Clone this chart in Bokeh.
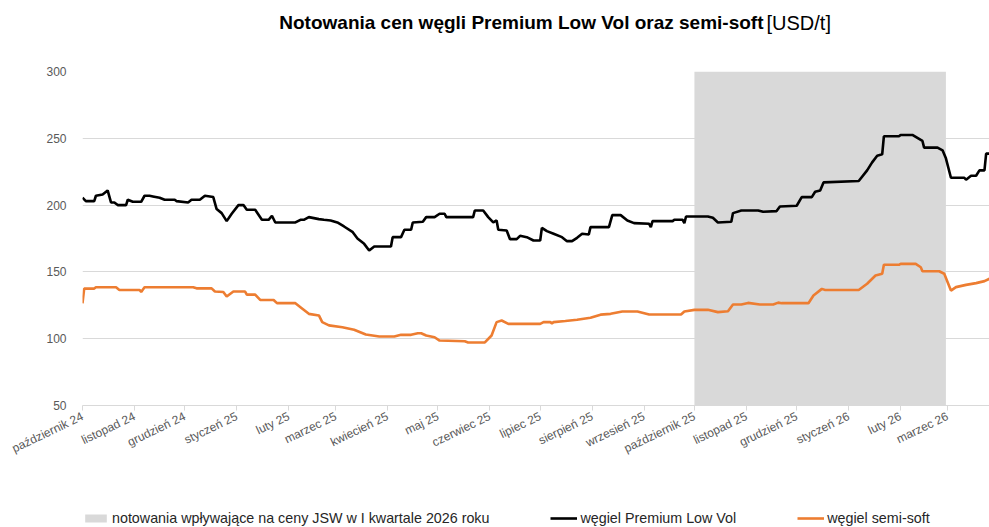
import pandas as pd
from bokeh.plotting import figure
from bokeh.layouts import column
from bokeh.models import ColumnDataSource, Range1d, FixedTicker, Legend, LegendItem
from bokeh.core.properties import value
from bokeh.embed import file_html
from bokeh.resources import INLINE

# ---------------- data ----------------
title_bold = "Notowania cen węgli Premium Low Vol oraz semi-soft"
title_unit = "[USD/t]"

series_names = ["notowania wpływające na ceny JSW w I kwartale 2026 roku",
                "węgiel Premium Low Vol", "węgiel semi-soft"]

tick_dates = ["2024-10-01", "2024-11-01", "2024-12-01", "2025-01-01", "2025-02-01",
              "2025-03-01", "2025-04-01", "2025-05-01", "2025-06-01", "2025-07-01",
              "2025-08-01", "2025-09-01", "2025-10-01", "2025-11-01", "2025-12-01",
              "2026-01-01", "2026-02-01", "2026-03-01"]
tick_labels = ["październik 24", "listopad 24", "grudzień 24", "styczeń 25", "luty 25",
               "marzec 25", "kwiecień 25", "maj 25", "czerwiec 25", "lipiec 25",
               "sierpień 25", "wrzesień 25", "październik 25", "listopad 25", "grudzień 25",
               "styczeń 26", "luty 26", "marzec 26"]

shade_start = "2025-10-01"
shade_end = "2026-02-28"

plv_dates = [
    "2024-10-01", "2024-10-03", "2024-10-08", "2024-10-09", "2024-10-13", "2024-10-16",
    "2024-10-18", "2024-10-20", "2024-10-22", "2024-10-27", "2024-10-28", "2024-10-31",
    "2024-11-05", "2024-11-07", "2024-11-10", "2024-11-12", "2024-11-16", "2024-11-19",
    "2024-11-25", "2024-11-26", "2024-12-03", "2024-12-05", "2024-12-10", "2024-12-13",
    "2024-12-16", "2024-12-18", "2024-12-20", "2024-12-23", "2024-12-26", "2024-12-29",
    "2025-01-02", "2025-01-05", "2025-01-07", "2025-01-12", "2025-01-16", "2025-01-20",
    "2025-01-22", "2025-01-24", "2025-02-05", "2025-02-08", "2025-02-10", "2025-02-13",
    "2025-02-19", "2025-02-22", "2025-02-26", "2025-03-02", "2025-03-06", "2025-03-11",
    "2025-03-14", "2025-03-18", "2025-03-21", "2025-03-24", "2025-04-03", "2025-04-04",
    "2025-04-09", "2025-04-11", "2025-04-15", "2025-04-16", "2025-04-22", "2025-04-24",
    "2025-04-29", "2025-05-02", "2025-05-05", "2025-05-06", "2025-05-22", "2025-05-23",
    "2025-05-28", "2025-05-31", "2025-06-03", "2025-06-05", "2025-06-06", "2025-06-11",
    "2025-06-13", "2025-06-17", "2025-06-19", "2025-06-23", "2025-06-27", "2025-07-01",
    "2025-07-02", "2025-07-05", "2025-07-09", "2025-07-14", "2025-07-17", "2025-07-20",
    "2025-07-23", "2025-07-26", "2025-07-30", "2025-07-31", "2025-08-11", "2025-08-13",
    "2025-08-18", "2025-08-22", "2025-08-26", "2025-09-04", "2025-09-05", "2025-09-06",
    "2025-09-18", "2025-09-19", "2025-09-24", "2025-09-25", "2025-09-26", "2025-10-09",
    "2025-10-12", "2025-10-15", "2025-10-23", "2025-10-24", "2025-10-29", "2025-11-08",
    "2025-11-11", "2025-11-19", "2025-11-21", "2025-12-01", "2025-12-04", "2025-12-10",
    "2025-12-12", "2025-12-15", "2025-12-17", "2026-01-07", "2026-01-12", "2026-01-15",
    "2026-01-18", "2026-01-21", "2026-01-22", "2026-01-31", "2026-02-01", "2026-02-08",
    "2026-02-12", "2026-02-14", "2026-02-15", "2026-02-23", "2026-02-26", "2026-02-28",
    "2026-03-03", "2026-03-11", "2026-03-12", "2026-03-15", "2026-03-18", "2026-03-20",
    "2026-03-23", "2026-03-24", "2026-03-26"]
plv_values = [
    205.5, 203, 203, 207, 208, 211,
    202, 202, 200, 200, 204, 202.5,
    202.5, 207, 207, 206.5, 205.5, 204,
    204, 203, 202, 204, 204, 207,
    206.5, 206, 197, 194, 188, 193.5,
    200, 200, 196.5, 196.5, 189, 189,
    192, 187, 187, 189, 189, 191,
    189.5, 189, 188.5, 187, 184, 180,
    175, 171, 166, 169, 169, 176,
    176, 181.5, 181.5, 187, 187.5, 191,
    191, 193.5, 193.5, 191, 191, 196,
    196, 191, 187, 188.5, 181.5, 181,
    174.5, 174.5, 177, 176, 173.5, 173.5,
    183, 180.5, 178.5, 176, 173, 173,
    175.5, 178.5, 178, 183.5, 183.5, 192.5,
    192.5, 188.5, 186.5, 186, 183.5, 188,
    188, 189, 189, 186.5, 191.5, 191.5,
    190.5, 187, 187.5, 194, 196, 196,
    195, 195.5, 199, 199.5, 206, 206,
    210, 211, 217, 218, 226, 232,
    237, 238, 251.5, 251.5, 252.5, 252.5,
    249.5, 248, 243, 243, 241, 235,
    220.5, 220.5, 219, 222, 222, 226,
    226, 238.5, 238.5]

ss_dates = [
    "2024-10-01", "2024-10-02", "2024-10-08", "2024-10-09", "2024-10-21", "2024-10-23",
    "2024-11-04", "2024-11-05", "2024-11-07", "2024-12-06", "2024-12-08", "2024-12-17",
    "2024-12-19", "2024-12-24", "2024-12-26", "2024-12-30", "2025-01-06", "2025-01-07",
    "2025-01-12", "2025-01-15", "2025-01-23", "2025-01-25", "2025-02-05", "2025-02-08",
    "2025-02-13", "2025-02-19", "2025-02-21", "2025-02-25", "2025-03-05", "2025-03-12",
    "2025-03-19", "2025-03-27", "2025-04-05", "2025-04-09", "2025-04-15", "2025-04-19",
    "2025-04-21", "2025-04-24", "2025-04-29", "2025-05-02", "2025-05-17", "2025-05-19",
    "2025-05-29", "2025-06-02", "2025-06-05", "2025-06-08", "2025-06-12", "2025-07-01",
    "2025-07-03", "2025-07-07", "2025-07-08", "2025-07-09", "2025-07-16", "2025-07-23",
    "2025-07-31", "2025-08-06", "2025-08-12", "2025-08-19", "2025-08-28", "2025-09-04",
    "2025-09-23", "2025-09-25", "2025-10-01", "2025-10-09", "2025-10-15", "2025-10-21",
    "2025-10-24", "2025-10-29", "2025-11-02", "2025-11-09", "2025-11-17", "2025-11-20",
    "2025-11-22", "2025-12-08", "2025-12-11", "2025-12-16", "2025-12-18", "2026-01-07",
    "2026-01-12", "2026-01-17", "2026-01-21", "2026-01-22", "2026-01-31", "2026-02-01",
    "2026-02-10", "2026-02-13", "2026-02-14", "2026-02-24", "2026-02-27", "2026-03-03",
    "2026-03-06", "2026-03-12", "2026-03-18", "2026-03-23", "2026-03-26"]
ss_values = [
    126.5, 137.5, 137.5, 138.5, 138.5, 136.5,
    136.5, 135, 138.5, 138.5, 137.7, 137.7,
    135.3, 135, 131.6, 135.3, 135.3, 133,
    133, 129, 129, 126.6, 126.6, 123.6,
    118.6, 117.4, 112.4, 110, 108.6, 106.7,
    103.1, 101.6, 101.6, 102.9, 102.9, 104.1,
    104.1, 102.4, 101.1, 98.6, 98.1, 97.2,
    97.2, 102.4, 112.4, 113.6, 111.1, 111.1,
    112.4, 112.4, 111.5, 112.4, 113.2, 114.2,
    115.7, 118, 118.6, 120.4, 120.4, 118.1,
    118.1, 120.4, 121.6, 121.6, 119.9, 120.5,
    125.6, 125.6, 126.8, 125.6, 125.6, 127,
    126.6, 126.6, 132.3, 137.3, 136.5, 136.5,
    141.1, 147.3, 148.6, 155.3, 155.3, 156,
    156, 153.5, 150.5, 150.5, 148.6, 136,
    138.6, 140.3, 141.6, 143.1, 144.9]

y_min, y_max = 50, 300
y_ticks = [50, 100, 150, 200, 250, 300]

SHADE = "#d9d9d9"
BLACK = "#000000"
ORANGE = "#ed7d31"
W = 989
LEFT = 82

def ms(d):
    return int(pd.Timestamp(d).value // 10**6)

plv_src = ColumnDataSource(dict(x=pd.to_datetime(plv_dates), y=plv_values))
ss_src = ColumnDataSource(dict(x=pd.to_datetime(ss_dates), y=ss_values))
shade_src = ColumnDataSource(dict(left=[pd.Timestamp(shade_start)], right=[pd.Timestamp(shade_end)],
                                  bottom=[y_min], top=[y_max]))

# ---------------- title strip (frame spans page x 82..989, y 0..50) ----------------
tp = figure(width=W, height=50, x_range=Range1d(LEFT, W), y_range=Range1d(50, 0),
            output_backend="svg", toolbar_location=None,
            x_axis_location=None, y_axis_location=None,
            min_border_left=LEFT, min_border_right=0, min_border_top=0, min_border_bottom=0)
tp.outline_line_color = None
tp.grid.visible = False
tp.text(x=[763], y=[22], text=[title_bold], text_font=value("Liberation Sans"),
        text_font_style="bold", text_font_size="19px", text_color="#000000",
        text_align="right", text_baseline="middle")
tp.text(x=[766], y=[22], text=[title_unit], text_font=value("Liberation Sans"),
        text_font_style="normal", text_font_size="20px", text_color="#000000",
        text_align="left", text_baseline="middle")

# ---------------- main chart ----------------
p = figure(width=W, height=445, x_axis_type="datetime",
           x_range=Range1d(pd.Timestamp(plv_dates[0]), pd.Timestamp(plv_dates[-1])),
           y_range=Range1d(y_min, y_max),
           output_backend="svg", toolbar_location=None,
           min_border_left=LEFT, min_border_right=0, min_border_top=21, min_border_bottom=90)
p.outline_line_color = None

p.quad(left="left", right="right", bottom="bottom", top="top", source=shade_src,
       fill_color=SHADE, line_color=None)
p.line("x", "y", source=plv_src, line_color=BLACK, line_width=2.6)
p.line("x", "y", source=ss_src, line_color=ORANGE, line_width=2.6)

p.xgrid.grid_line_color = None
p.ygrid.grid_line_color = "#d9d9d9"
p.ygrid.grid_line_width = 1
p.ygrid.ticker = FixedTicker(ticks=y_ticks)

p.yaxis.ticker = FixedTicker(ticks=y_ticks)
p.yaxis.axis_line_color = None
p.yaxis.major_tick_line_color = None
p.yaxis.minor_tick_line_color = None
p.yaxis.major_tick_out = 0
p.yaxis.major_tick_in = 0
p.yaxis.major_label_standoff = 16
p.yaxis.major_label_text_font = "Liberation Sans"
p.yaxis.major_label_text_font_size = "12px"
p.yaxis.major_label_text_color = "#595959"

tick_ms = [ms(d) for d in tick_dates]
p.xaxis.ticker = FixedTicker(ticks=tick_ms)
p.xaxis.major_label_overrides = {t: lab for t, lab in zip(tick_ms, tick_labels)}
p.xaxis.axis_line_color = "#d9d9d9"
p.xaxis.axis_line_width = 1
p.xaxis.major_tick_line_color = "#d9d9d9"
p.xaxis.major_tick_out = 5
p.xaxis.major_tick_in = 0
p.xaxis.minor_tick_line_color = None
p.xaxis.major_label_orientation = 0.45
p.xaxis.major_label_standoff = 5
p.xaxis.major_label_text_font = "Liberation Sans"
p.xaxis.major_label_text_font_size = "12px"
p.xaxis.major_label_text_color = "#595959"

# ---------------- legend strip ----------------
# the renderers share the chart's sources; their data fall outside this strip's ranges,
# so only the legend samples are visible here
lp = figure(width=W, height=32, x_range=Range1d(0, 1), y_range=Range1d(0, 1),
            output_backend="svg", toolbar_location=None,
            x_axis_location=None, y_axis_location=None,
            min_border_left=LEFT, min_border_right=0, min_border_top=0, min_border_bottom=0)
lp.outline_line_color = None
lp.grid.visible = False
r_shade = lp.quad(left="left", right="right", bottom="bottom", top="top", source=shade_src,
                  fill_color=SHADE, line_color=None)
r_plv = lp.line("x", "y", source=plv_src, line_color=BLACK, line_width=2.6)
r_ss = lp.line("x", "y", source=ss_src, line_color=ORANGE, line_width=2.6)
legend = Legend(items=[LegendItem(label=series_names[0], renderers=[r_shade]),
                       LegendItem(label=series_names[1], renderers=[r_plv]),
                       LegendItem(label=series_names[2], renderers=[r_ss])],
                orientation="horizontal", location=(0, 1),
                spacing=61, label_standoff=3, glyph_width=27, glyph_height=10,
                label_height=14, padding=0, margin=0,
                label_text_font="Liberation Sans", label_text_font_size="14.3px",
                label_text_color="#262626",
                background_fill_alpha=0, border_line_color=None)
lp.add_layout(legend)

layout = column(tp, p, lp, spacing=0)
open("out.html", "w").write(file_html(layout, INLINE))
